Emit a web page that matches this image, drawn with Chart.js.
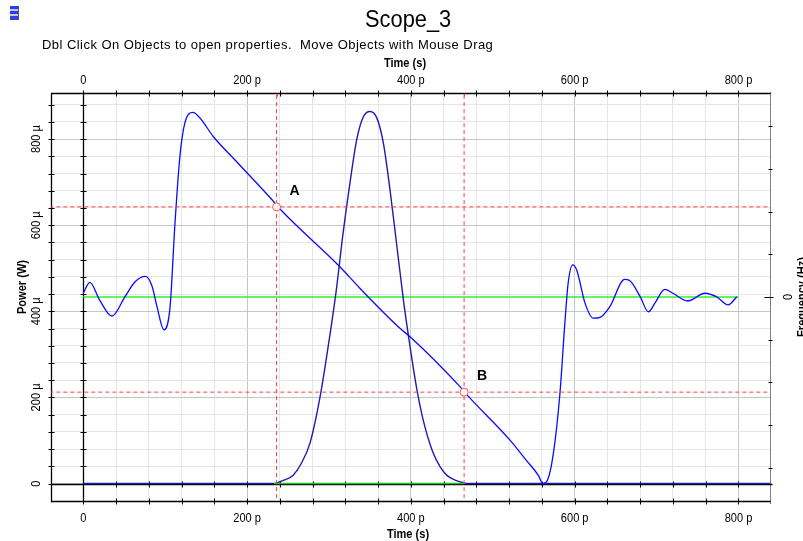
<!DOCTYPE html>
<html>
<head>
<meta charset="utf-8">
<script src="https://cdn.jsdelivr.net/npm/chart.js@4.4.0/dist/chart.umd.min.js"></script>
<style>
html, body { margin: 0; padding: 0; background: #fff; }
#wrap { position: relative; width: 803px; height: 541px; overflow: hidden; }
#chart { position: absolute; left: 0; top: 0; }
#icon { position: absolute; left: 10px; top: 6px; width: 8px; height: 13px;
  background: linear-gradient(#2a3cff 0 3px, #c8c8c8 3px 5px, #2a3cff 5px 8px, #c8c8c8 8px 10px, #2a3cff 10px 13px);
  border-right: 1px solid #555; border-bottom: 1px solid #555; }
#title { position: absolute; left: 365px; top: 6px; font: 23px 'Liberation Sans', Arial, sans-serif; color: #000; transform: scaleX(0.95); transform-origin: left top; }
#sub { position: absolute; left: 42px; top: 37px; font: 13px 'Liberation Sans', Arial, sans-serif; letter-spacing: 0.45px; color: #000; white-space: pre; }
</style>
</head>
<body>
<div id="wrap">
  <canvas id="chart" width="803" height="541"></canvas>
  <div id="icon"></div>
  <div id="title">Scope_3</div>
  <div id="sub">Dbl Click On Objects to open properties.  Move Objects with Mouse Drag</div>
</div>
<script>
// 시간 (p s), 파워 (µW)
const curveTime  = [0, 8, 20, 35, 51, 63, 76, 84, 90, 98.5, 106, 112, 118, 124, 134, 142.5, 158.7, 187, 230.5, 242, 313, 338, 387, 399, 460, 470, 521, 541, 556, 561, 566, 574, 582, 588, 592, 597.6, 602.5, 612.6, 622.7, 631, 643, 661, 667.5, 680, 690, 698, 710, 720, 738, 759, 773, 787.5, 798];
const curvePower = [442, 467, 426, 389, 434, 468, 481, 458, 411, 357, 411, 605, 760, 837, 862, 849, 806, 748, 659, 634, 504, 453, 360, 341, 225, 203, 101, 54, 18, 0, 5, 70, 209, 372, 465, 508, 496, 419, 384, 386, 411, 474, 471, 434, 399, 419, 451, 442, 424, 442, 434, 415, 434];

const pulseTime  = [0, 232, 245, 256, 266, 277, 289, 299, 309, 317, 326, 334, 342, 350, 358, 366, 374, 383, 391, 399, 407, 415, 427, 436, 444, 454, 464, 470, 840];
const pulsePower = [0, 0, 8, 19, 46, 95, 200, 318, 450, 578, 703, 800, 852, 864, 851, 795, 690, 550, 425, 318, 222, 148, 72, 38, 19, 8, 2, 0, 0];

// 주파수 (Hz) 는 0
const freqTime  = [0, 800];
const freqValue = [0, 0];
const freqBottomTime = [233, 465];

// 마커 A, B
const markerNames = ['A', 'B'];
const markerTime  = [236, 465];
const markerPower = [642.6, 212.3];

// 축 눈금
const xGridValues = [];
for (let v = 0; v <= 800; v += 40) xGridValues.push(v);
const yGridValues = [];
for (let v = 0; v <= 880; v += 40) yGridValues.push(v);
const y2TickValues = [-0.8, -0.6, -0.4, -0.2, 0, 0.2, 0.4, 0.6, 0.8];
const xLabelValues = [0, 200, 400, 600, 800];
const xTickLabels  = ['0', '200 p', '400 p', '600 p', '800 p'];
const yLabelValues = [0, 200, 400, 600, 800];
const yTickLabels  = ['0', '200 \u00b5', '400 \u00b5', '600 \u00b5', '800 \u00b5'];

const FONT = "'Liberation Sans', Arial, sans-serif";

function pts(xs, ys) {
    return xs.map((t, i) => ({x: t, y: ys[i]}));
}

const markerLines = [];
markerTime.forEach((t, i) => {
    markerLines.push({ data: [{x: t, y: -50}, {x: t, y: 920}] });
    markerLines.push({ data: [{x: -50, y: markerPower[i]}, {x: 850, y: markerPower[i]}] });
});

// 좁은 글씨 (원본 글꼴이 좁아서)
function narrowText(ctx, text, px, py, angle) {
    ctx.save();
    ctx.translate(px, py);
    if (angle) ctx.rotate(angle);
    ctx.scale(0.85, 1);
    ctx.fillText(text, 0, 0);
    ctx.restore();
}

// 축, 눈금, 글자 그리기
const scopeAxes = {
    id: 'scopeAxes',
    beforeDatasetsDraw(chart) {
        const ctx = chart.ctx, a = chart.chartArea;
        const x = chart.scales.x, y = chart.scales.y, y2 = chart.scales.y2;
        const x0 = Math.round(x.getPixelForValue(0)) + 0.5;
        const y0 = Math.round(y.getPixelForValue(0)) + 0.5;
        const L = Math.round(a.left) + 0.5, T = Math.round(a.top) + 0.5;
        const B = Math.round(a.bottom) + 0.5, R = Math.round(a.right) + 0.5;
        ctx.save();
        ctx.strokeStyle = '#000';
        ctx.lineWidth = 1.3;
        ctx.beginPath();
        ctx.moveTo(L, B + 1); ctx.lineTo(L, T); ctx.lineTo(R, T);
        ctx.moveTo(L, B); ctx.lineTo(R, B);
        ctx.moveTo(x0, T); ctx.lineTo(x0, B + 1);
        ctx.moveTo(L, y0); ctx.lineTo(R + 2, y0);
        ctx.stroke();

        // 작은 눈금
        ctx.lineWidth = 1;
        ctx.beginPath();
        xGridValues.forEach(v => {
            const px = Math.round(x.getPixelForValue(v)) + 0.5;
            [T, B, y0].forEach(py => { ctx.moveTo(px, py - 3); ctx.lineTo(px, py + 3); });
        });
        yGridValues.forEach(v => {
            const py = Math.round(y.getPixelForValue(v)) + 0.5;
            [L, x0].forEach(px => { ctx.moveTo(px - 3, py); ctx.lineTo(px + 3, py); });
        });
        y2TickValues.forEach(v => {
            const py = Math.round(y2.getPixelForValue(v)) + 0.5;
            if (v === 0) { ctx.moveTo(R - 6, py); ctx.lineTo(R + 3, py); }
            else { ctx.moveTo(R - 2, py); ctx.lineTo(R + 2, py); }
        });
        ctx.stroke();

        // 오른쪽 점선 축
        ctx.setLineDash([1, 1]);
        ctx.beginPath();
        ctx.moveTo(R, T - 1); ctx.lineTo(R, B + 2);
        ctx.stroke();
        ctx.setLineDash([]);

        // 위쪽 축의 마커 위치
        ctx.strokeStyle = '#ff3030';
        ctx.beginPath();
        markerTime.forEach(t => {
            const px = Math.round(x.getPixelForValue(t)) + 0.5;
            ctx.moveTo(px, T); ctx.lineTo(px, T + 3);
        });
        ctx.stroke();
        ctx.restore();
    },
    afterDraw(chart) {
        const ctx = chart.ctx;
        const x = chart.scales.x, y = chart.scales.y, y2 = chart.scales.y2;
        const up = -Math.PI / 2;
        ctx.save();
        ctx.fillStyle = '#000';
        ctx.textAlign = 'center';
        ctx.textBaseline = 'middle';
        ctx.font = '13px ' + FONT;
        xLabelValues.forEach((v, i) => {
            const px = x.getPixelForValue(v);
            narrowText(ctx, xTickLabels[i], px, 80);
            narrowText(ctx, xTickLabels[i], px, 518);
        });
        yLabelValues.forEach((v, i) => {
            narrowText(ctx, yTickLabels[i], 36, y.getPixelForValue(v), up);
        });
        narrowText(ctx, '0', 788, y2.getPixelForValue(0), up);

        ctx.font = 'bold 13px ' + FONT;
        narrowText(ctx, 'Time (s)', 405, 63);
        narrowText(ctx, 'Time (s)', 408, 534);
        narrowText(ctx, 'Power (W)', 22, 287, up);
        narrowText(ctx, 'Frequency (Hz)', 802, y2.getPixelForValue(0), up);

        // 마커 이름
        ctx.font = 'bold 14px ' + FONT;
        markerNames.forEach((n, i) => {
            ctx.fillText(n, x.getPixelForValue(markerTime[i]) + 18, y.getPixelForValue(markerPower[i]) - 16);
        });
        ctx.restore();
    }
};

const gridScale = (values) => ({
    type: 'linear',
    display: true,
    afterBuildTicks: (scale) => { scale.ticks = values.map(v => ({value: v})); },
    ticks: { display: false },
    border: { display: false },
    grid: {
        drawTicks: false,
        lineWidth: 1,
        color: (c) => (c.tick && c.tick.value % 200 === 0) ? '#c6c6c6' : '#e6e6e6'
    }
});

var chart = new Chart(document.getElementById('chart').getContext('2d'), {
    type: 'line',
    data: {
        datasets: [
            {
                label: 'markers',
                data: pts(markerTime, markerPower),
                showLine: false,
                pointRadius: 4,
                pointBackgroundColor: '#fff',
                pointBorderColor: '#ff5050',
                pointBorderWidth: 1,
                order: 0
            },
            {
                label: 'freq bottom',
                data: freqBottomTime.map(t => ({x: t, y: 0})),
                borderColor: '#22bb22',
                borderWidth: 1.6,
                pointRadius: 0,
                order: 1
            },
            ...markerLines.map(m => ({
                label: 'cursor',
                data: m.data,
                borderColor: '#ff4040',
                borderWidth: 1,
                borderDash: [4, 3],
                pointRadius: 0,
                order: 2
            })),
            {
                label: 'Power',
                data: pts(curveTime, curvePower),
                borderColor: '#0a0aff',
                borderWidth: 1.3,
                pointRadius: 0,
                cubicInterpolationMode: 'monotone',
                order: 3
            },
            {
                label: 'Pulse',
                data: pts(pulseTime, pulsePower),
                borderColor: '#1c1cb0',
                borderWidth: 1.4,
                pointRadius: 0,
                cubicInterpolationMode: 'monotone',
                order: 4
            },
            {
                label: 'Frequency',
                data: pts(freqTime, freqValue),
                yAxisID: 'y2',
                borderColor: '#33ee33',
                borderWidth: 1.3,
                pointRadius: 0,
                order: 5
            }
        ]
    },
    options: {
        responsive: false,
        animation: false,
        devicePixelRatio: 1,
        layout: { padding: { left: 51, top: 93, right: 33, bottom: 40 } },
        plugins: { legend: { display: false }, tooltip: { enabled: false } },
        scales: {
            x: Object.assign(gridScale(xGridValues), { min: -39.4, max: 838.5 }),
            y: Object.assign(gridScale(yGridValues), { min: -40.5, max: 907 }),
            y2: { type: 'linear', display: false, position: 'right', min: -0.955, max: 0.955 }
        }
    },
    plugins: [scopeAxes]
});
</script>
</body>
</html>
